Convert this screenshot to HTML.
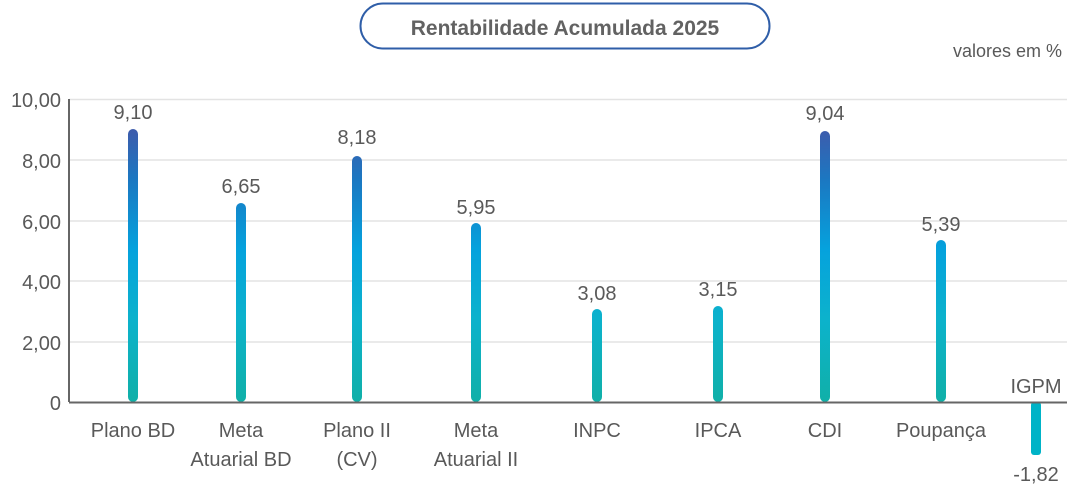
<!DOCTYPE html>
<html><head><meta charset="utf-8"><style>
body{margin:0;background:#fff;width:1075px;height:488px;overflow:hidden}
svg text{font-family:"Liberation Sans",sans-serif;fill:#595959}
</style></head><body>
<svg width="1075" height="488" viewBox="0 0 1075 488">
<defs>
<linearGradient id="g" gradientUnits="userSpaceOnUse" x1="0" y1="125" x2="0" y2="402">
<stop offset="0" stop-color="#4059aa"/>
<stop offset="0.2" stop-color="#1b78c2"/>
<stop offset="0.45" stop-color="#05a2dd"/>
<stop offset="0.7" stop-color="#0cb2cc"/>
<stop offset="1" stop-color="#10b0a8"/>
</linearGradient>
</defs>
<rect x="360.5" y="3.5" width="409" height="45" rx="22.5" fill="#fff" stroke="#2f5ea8" stroke-width="2"/>
<text x="565" y="35" text-anchor="middle" font-size="21" font-weight="bold" style="fill:#626262">Rentabilidade Acumulada 2025</text>
<text x="1062" y="57" text-anchor="end" font-size="18">valores em %</text>
<g stroke="#e3e3e3" stroke-width="1.5">
<line x1="69" x2="1067" y1="99.5" y2="99.5"/><line x1="69" x2="1067" y1="160" y2="160"/>
<line x1="69" x2="1067" y1="221" y2="221"/><line x1="69" x2="1067" y1="281" y2="281"/>
<line x1="69" x2="1067" y1="342" y2="342"/>
</g>
<g font-size="20" text-anchor="end">
<text x="61" y="107">10,00</text><text x="61" y="168">8,00</text><text x="61" y="229">6,00</text>
<text x="61" y="289">4,00</text><text x="61" y="350">2,00</text><text x="61" y="410">0</text>
</g>
<g fill="url(#g)">
<rect x="128" y="129" width="10" height="273" rx="5"/>
<rect x="236" y="203" width="10" height="199" rx="5"/>
<rect x="352" y="156" width="10" height="246" rx="5"/>
<rect x="471" y="223" width="10" height="179" rx="5"/>
<rect x="592" y="309" width="10" height="93" rx="5"/>
<rect x="713" y="306" width="10" height="96" rx="5"/>
<rect x="820" y="131" width="10" height="271" rx="5"/>
<rect x="936" y="240" width="10" height="162" rx="5"/>
</g>
<rect x="1031" y="402" width="10" height="53" rx="3" fill="#00b3c7"/>
<line x1="69" y1="99" x2="69" y2="402" stroke="#666" stroke-width="2"/>
<line x1="69" y1="402.5" x2="1067" y2="402.5" stroke="#666" stroke-width="2"/>
<g font-size="20" text-anchor="middle">
<text x="133" y="119">9,10</text><text x="241" y="193">6,65</text><text x="357" y="144">8,18</text>
<text x="476" y="214">5,95</text><text x="597" y="300">3,08</text><text x="718" y="296">3,15</text>
<text x="825" y="120">9,04</text><text x="941" y="231">5,39</text><text x="1036" y="481">-1,82</text>
<text x="1036" y="393">IGPM</text>
<text x="133" y="437">Plano BD</text>
<text x="241" y="437">Meta</text><text x="241" y="466">Atuarial BD</text>
<text x="357" y="437">Plano II</text><text x="357" y="466">(CV)</text>
<text x="476" y="437">Meta</text><text x="476" y="466">Atuarial II</text>
<text x="597" y="437">INPC</text><text x="718" y="437">IPCA</text>
<text x="825" y="437">CDI</text><text x="941" y="437">Poupança</text>
</g>
</svg>
</body></html>
